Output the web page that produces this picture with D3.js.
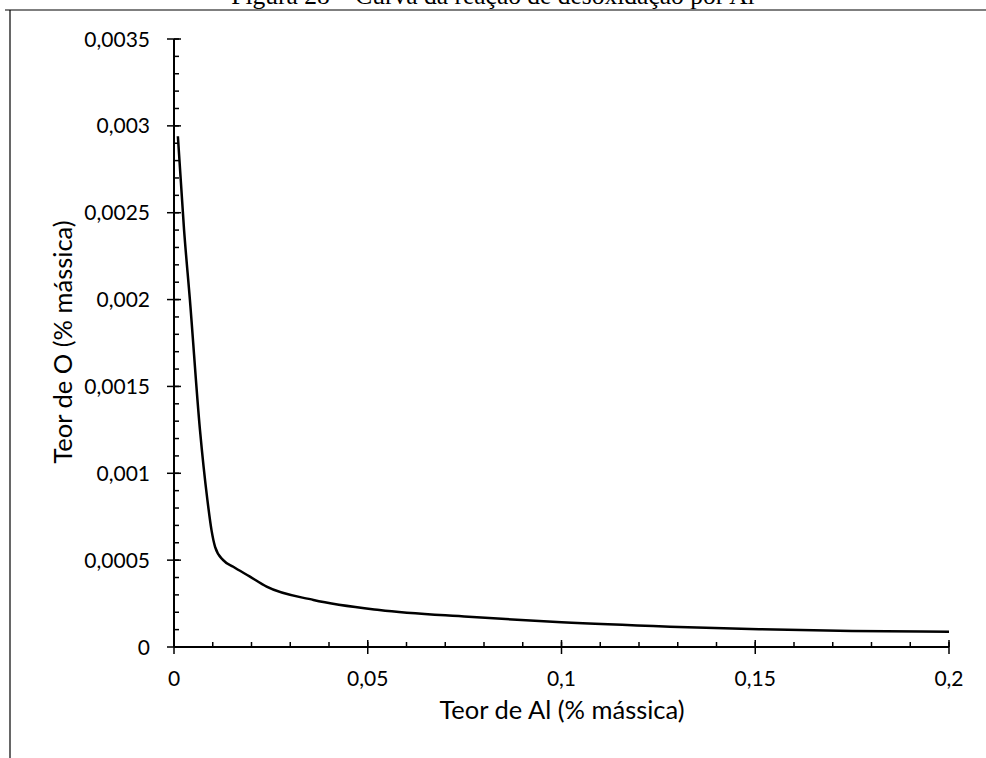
<!DOCTYPE html>
<html>
<head>
<meta charset="utf-8">
<script src="https://cdn.jsdelivr.net/npm/d3@7"></script>
<style>
  body { margin: 0; background: #fff; }
  svg { display: block; }
  .tick-label { font-family: Lato, "Open Sans", sans-serif; font-size: 21px; fill: #000; }
  .axis-title { font-family: Lato, "Open Sans", sans-serif; font-size: 25.5px; fill: #000; }
  .fig-title { font-family: "Liberation Serif", "Times New Roman", serif; font-size: 25.5px; fill: #000; }
</style>
</head>
<body>
<div id="chart"></div>
<script>
// Teor de Al (% mássica) vs Teor de O (% mássica)
const alContent = [0.001, 0.0026, 0.0041, 0.0067, 0.0086, 0.0097, 0.0106, 0.0127, 0.0153, 0.0196, 0.0239, 0.036, 0.053, 0.076, 0.1, 0.128, 0.151, 0.175, 0.2];
const oContent = [0.00294, 0.0024, 0.002, 0.00125, 0.00085, 0.00067, 0.000577, 0.0005, 0.000462, 0.000405, 0.000347, 0.000271, 0.000213, 0.000174, 0.000142, 0.000117, 0.000102, 0.000092, 0.000088];

const xTicks = [0, 0.05, 0.1, 0.15, 0.2];
const yTicks = [0, 0.0005, 0.001, 0.0015, 0.002, 0.0025, 0.003, 0.0035];
const xMinor = d3.range(0, 0.2001, 0.01);
const yMinor = d3.range(0, 0.00351, 0.0001);

const width = 986, height = 758;
const margin = { left: 174, right: 37, top: 39, bottom: 111 };

const fmt = (v) => String(+v.toPrecision(6)).replace('.', ',');

const svg = d3.select('#chart')
    .append('svg')
    .attr('width', width)
    .attr('height', height);

// frame of the figure
svg.append('line')
    .attr('x1', 5).attr('x2', width).attr('y1', 10).attr('y2', 10)
    .attr('stroke', '#000').attr('stroke-width', 1.2);
svg.append('line')
    .attr('x1', 10).attr('x2', 10).attr('y1', 10).attr('y2', height)
    .attr('stroke', '#000').attr('stroke-width', 1.2);

svg.append('text')
    .attr('class', 'fig-title')
    .attr('x', 493)
    .attr('y', 4)
    .attr('text-anchor', 'middle')
    .text('Figura 28 – Curva da reação de desoxidação por Al');

const x = d3.scaleLinear()
    .domain([0, 0.2])
    .range([margin.left, width - margin.right]);

const y = d3.scaleLinear()
    .domain([0, 0.0035])
    .range([height - margin.bottom, margin.top]);

const g = svg.append('g');

// minor ticks (inside only)
g.selectAll('.xminor')
    .data(xMinor)
    .enter().append('line')
    .attr('x1', (d) => x(d)).attr('x2', (d) => x(d))
    .attr('y1', y(0)).attr('y2', y(0) - 5)
    .attr('stroke', '#000').attr('stroke-width', 1.5);
g.selectAll('.yminor')
    .data(yMinor)
    .enter().append('line')
    .attr('x1', x(0)).attr('x2', x(0) + 5)
    .attr('y1', (d) => y(d)).attr('y2', (d) => y(d))
    .attr('stroke', '#000').attr('stroke-width', 1.5);

// major ticks (cross the axis)
g.selectAll('.xmajor')
    .data(xTicks)
    .enter().append('line')
    .attr('x1', (d) => x(d)).attr('x2', (d) => x(d))
    .attr('y1', y(0) - 7).attr('y2', y(0) + 7)
    .attr('stroke', '#000').attr('stroke-width', 1.5);
g.selectAll('.ymajor')
    .data(yTicks)
    .enter().append('line')
    .attr('x1', x(0) - 7).attr('x2', x(0) + 7)
    .attr('y1', (d) => y(d)).attr('y2', (d) => y(d))
    .attr('stroke', '#000').attr('stroke-width', 1.5);

// axis lines
g.append('line')
    .attr('x1', x(0)).attr('x2', x(0.2))
    .attr('y1', y(0)).attr('y2', y(0))
    .attr('stroke', '#000').attr('stroke-width', 2);
g.append('line')
    .attr('x1', x(0)).attr('x2', x(0))
    .attr('y1', y(0)).attr('y2', y(0.0035))
    .attr('stroke', '#000').attr('stroke-width', 2);

// tick labels
g.selectAll('.xlabel')
    .data(xTicks)
    .enter().append('text')
    .attr('class', 'tick-label')
    .attr('x', (d) => x(d))
    .attr('y', y(0) + 39)
    .attr('text-anchor', 'middle')
    .text(fmt);
g.selectAll('.ylabel')
    .data(yTicks)
    .enter().append('text')
    .attr('class', 'tick-label')
    .attr('x', x(0) - 24)
    .attr('y', (d) => y(d) + 7.5)
    .attr('text-anchor', 'end')
    .text(fmt);

// axis titles
svg.append('text')
    .attr('class', 'axis-title')
    .attr('x', 562)
    .attr('y', 719)
    .attr('text-anchor', 'middle')
    .text('Teor de Al (% mássica)');
svg.append('text')
    .attr('class', 'axis-title')
    .attr('transform', 'translate(72, 342) rotate(-90)')
    .attr('text-anchor', 'middle')
    .text('Teor de O (% mássica)');

// curve
const points = alContent.map((v, i) => [v, oContent[i]]);
const line = d3.line()
    .x((d) => x(d[0]))
    .y((d) => y(d[1]))
    .curve(d3.curveMonotoneX);

g.append('path')
    .datum(points)
    .attr('fill', 'none')
    .attr('stroke', '#000')
    .attr('stroke-width', 2.5)
    .attr('d', line);
</script>
</body>
</html>
